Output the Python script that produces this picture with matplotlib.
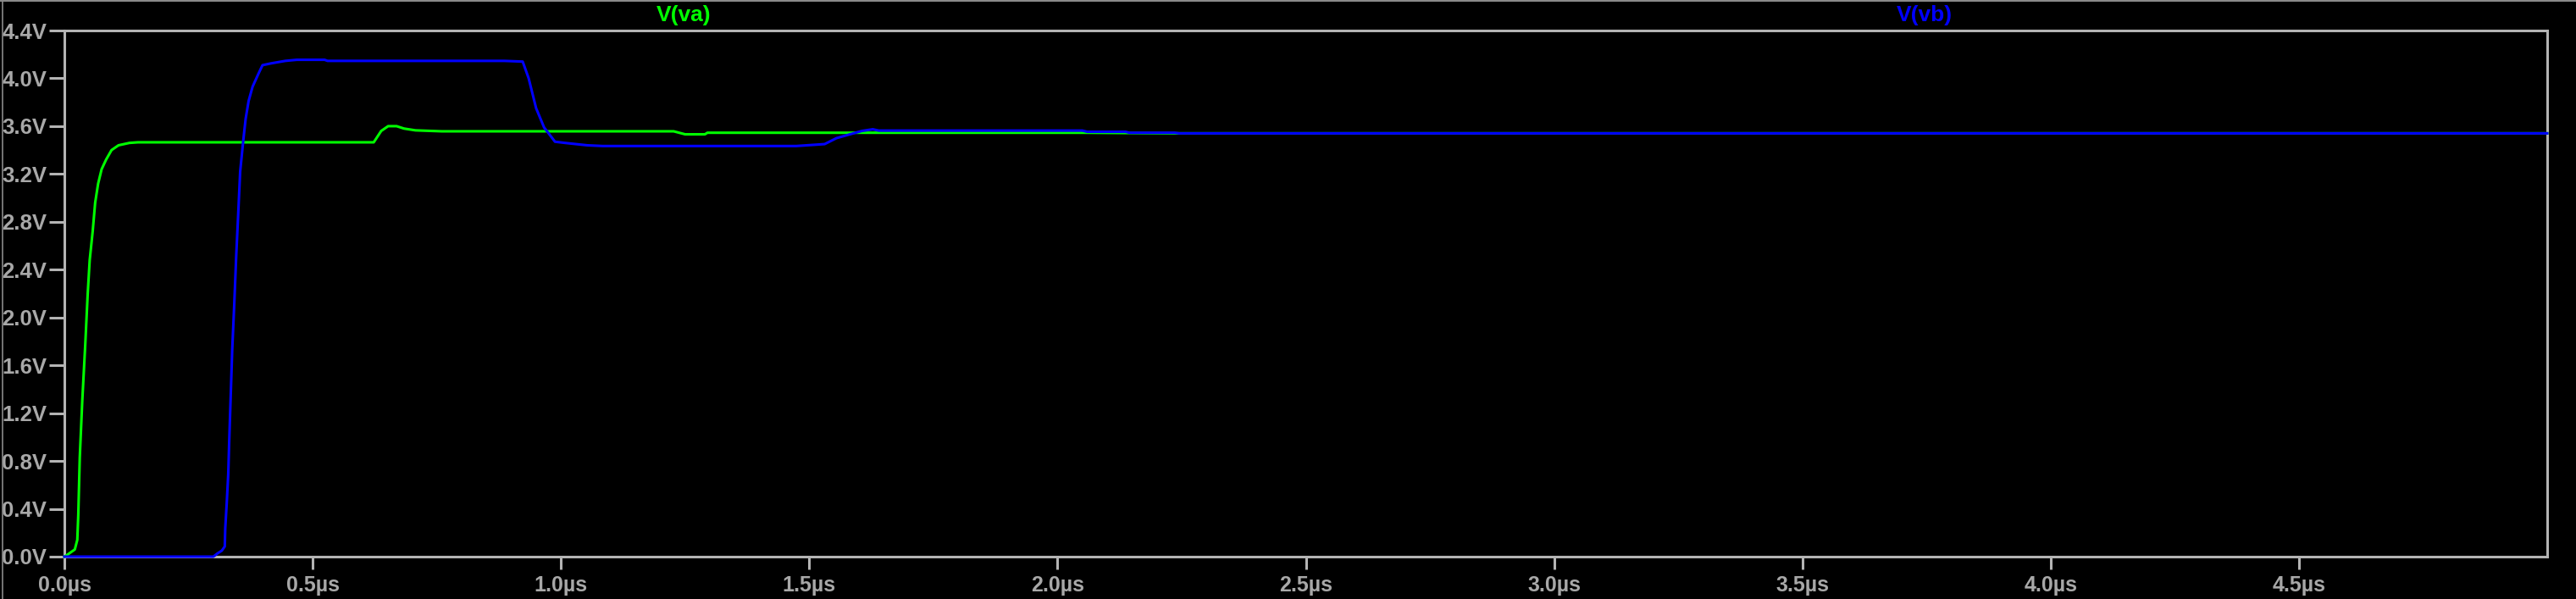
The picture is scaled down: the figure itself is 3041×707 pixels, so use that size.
import matplotlib
matplotlib.use("Agg")
import matplotlib.pyplot as plt
from matplotlib.lines import Line2D

# Time in microseconds, voltage in volts
t_va = [0, 0.003, 0.021, 0.026, 0.028, 0.031, 0.036, 0.042, 0.047, 0.051, 0.057, 0.062,
        0.068, 0.075, 0.084, 0.095, 0.109, 0.131, 0.148, 0.623, 0.638, 0.652, 0.669,
        0.684, 0.707, 0.76, 1.227, 1.25, 1.29, 1.295, 2.05, 2.24, 5.0]
v_va = [0, 0.007, 0.06, 0.14, 0.35, 0.83, 1.30, 1.77, 2.20, 2.48, 2.72, 2.96,
        3.12, 3.24, 3.32, 3.40, 3.44, 3.46, 3.465, 3.465, 3.56, 3.60, 3.60,
        3.58, 3.565, 3.557, 3.557, 3.532, 3.532, 3.545, 3.545, 3.54, 3.54]

t_vb = [0, 0.30, 0.308, 0.317, 0.323, 0.324, 0.327, 0.330, 0.332, 0.335, 0.338, 0.342,
        0.346, 0.350, 0.354, 0.36, 0.365, 0.371, 0.379, 0.391, 0.399, 0.416, 0.445,
        0.468, 0.524, 0.53, 0.886, 0.923, 0.935, 0.95, 0.966, 0.988, 1.008, 1.053,
        1.084, 1.474, 1.531, 1.555, 1.606, 1.628, 1.64, 2.05, 2.06, 2.137, 2.145,
        2.236, 2.245, 5.0]
v_vb = [0, 0, 0.026, 0.05, 0.085, 0.24, 0.45, 0.69, 0.97, 1.35, 1.73, 2.10,
        2.51, 2.86, 3.22, 3.47, 3.66, 3.81, 3.93, 4.04, 4.11, 4.125, 4.146,
        4.155, 4.155, 4.146, 4.146, 4.14, 4.0, 3.75, 3.59, 3.47, 3.46, 3.44,
        3.434, 3.434, 3.45, 3.50, 3.56, 3.574, 3.563, 3.563, 3.553, 3.553, 3.545,
        3.545, 3.54, 3.54]

x_ticks = [0.0, 0.5, 1.0, 1.5, 2.0, 2.5, 3.0, 3.5, 4.0, 4.5]
x_labels = [f"{v:.1f}µs" for v in x_ticks]
y_ticks = [0.0, 0.4, 0.8, 1.2, 1.6, 2.0, 2.4, 2.8, 3.2, 3.6, 4.0, 4.4]
y_labels = [f"{v:.1f}V" for v in y_ticks]
trace_names = ["V(va)", "V(vb)"]

W, H = 3041, 707
fig = plt.figure(figsize=(W / 100, H / 100), dpi=100, facecolor="black")
ax = fig.add_axes([76 / W, 1 - 657 / H, (3007 - 76) / W, (657 - 36) / H])
ax.set_facecolor("black")

frame = "#b4b4b4"
txt = "#a8a8a8"
green = "#00ff00"
blue = "#0000ff"

ax.plot(t_va, v_va, color=green, lw=2.2, zorder=3, clip_on=False)
ax.plot(t_vb, v_vb, color=blue, lw=2.2, zorder=4, clip_on=False)

ax.set_xlim(0, 5.0)
ax.set_ylim(0, 4.4)
ax.set_xticks(x_ticks)
ax.set_xticklabels(x_labels)
ax.set_yticks(y_ticks)
ax.set_yticklabels(y_labels)

for s in ax.spines.values():
    s.set_color(frame)
    s.set_linewidth(2.2)
    s.set_zorder(2)

ax.tick_params(axis="y", colors=frame, length=13, width=2.2, pad=2, labelcolor=txt,
               labelsize=18.5)
ax.tick_params(axis="x", colors=frame, length=10.5, width=2.2, pad=5, labelcolor=txt,
               labelsize=18)
for lab in ax.get_xticklabels() + ax.get_yticklabels():
    lab.set_fontfamily("Liberation Sans")
    lab.set_fontweight("bold")

fig.text(806.7 / W, 1 - 17.5 / H, trace_names[0], color=green, ha="center", va="center",
         fontsize=19, fontweight="bold", family="Liberation Sans")
fig.text(2271.5 / W, 1 - 17.5 / H, trace_names[1], color=blue, ha="center", va="center",
         fontsize=19, fontweight="bold", family="Liberation Sans")

# outer window border (top and left)
fig.add_artist(Line2D([0, 1], [1 - 1 / H, 1 - 1 / H], transform=fig.transFigure,
                      color="#8a8a8a", lw=1.5))
fig.add_artist(Line2D([2.5 / W, 2.5 / W], [0, 1], transform=fig.transFigure,
                      color="#8a8a8a", lw=1.2))

fig.savefig("out.png", dpi=100, facecolor="black")
